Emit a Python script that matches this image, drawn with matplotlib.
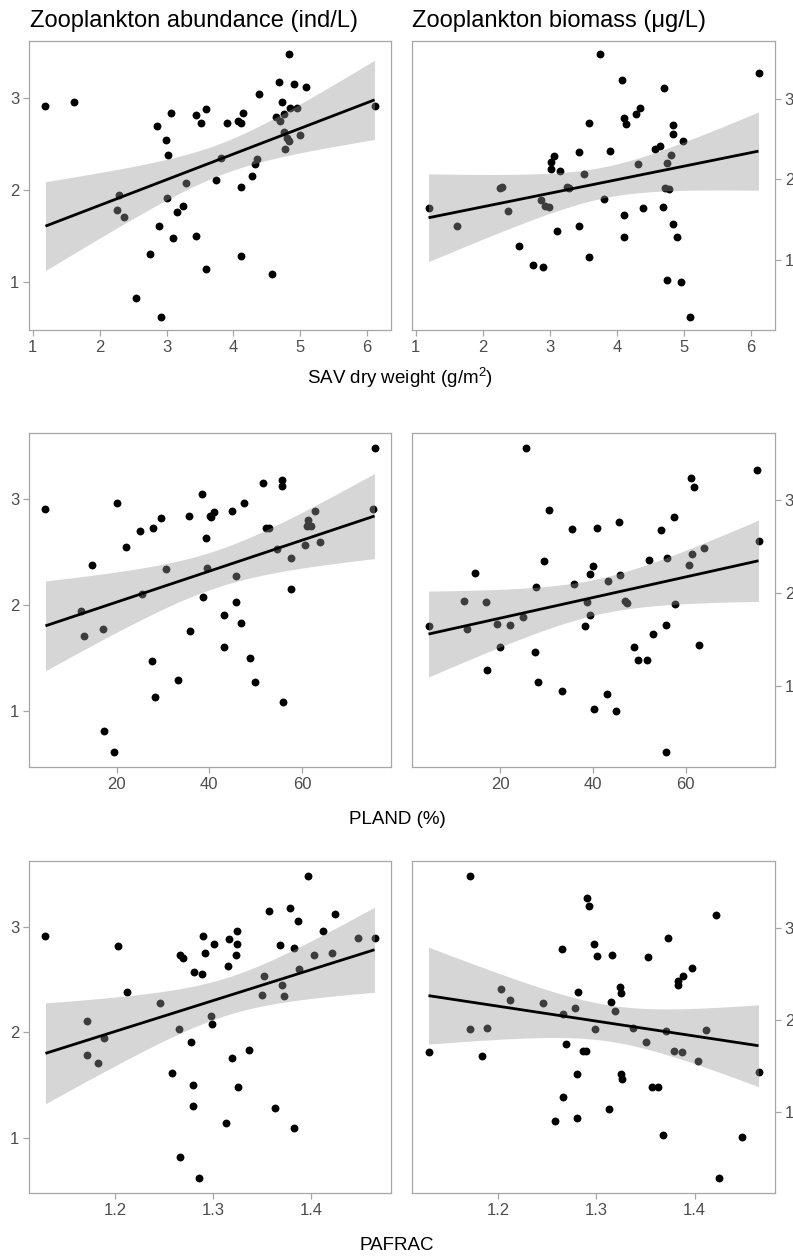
import numpy as np
import matplotlib.pyplot as plt

plt.rcParams['font.family'] = ['Liberation Sans', 'DejaVu Sans']
plt.rcParams['mathtext.fontset'] = 'custom'
plt.rcParams['mathtext.rm'] = 'Liberation Sans'
plt.rcParams['mathtext.it'] = 'Liberation Sans:italic'

# one entry per sampling site
sav = [1.19, 1.61, 2.29, 2.26, 2.37, 2.54, 2.75, 2.86, 2.89, 2.92,
       2.99, 3.02, 3.01, 3.06, 3.10, 3.15, 3.25, 3.29, 3.44, 3.44,
       3.51, 3.59, 3.59, 3.74, 3.81, 3.90, 4.07, 4.11, 4.14, 4.11,
       4.11, 4.28, 4.32, 4.35, 4.39, 4.57, 4.64, 4.68, 4.70, 4.72,
       4.75, 4.75, 4.77, 4.80, 4.83, 4.83, 4.84, 4.90, 4.95, 4.99,
       5.09, 6.11]
pland = [4.6, 20.1, 12.2, 17.0, 13.0, 17.3, 33.3, 25.0, 43.1, 19.4,
         22.1, 14.6, 43.2, 40.1, 27.6, 35.9, 46.9, 38.7, 29.5, 48.9,
         27.8, 41.0, 28.2, 25.5, 39.5, 52.2, 61.1, 52.9, 35.6, 45.7,
         49.8, 57.6, 45.8, 30.6, 38.4, 56.0, 61.3, 55.7, 61.9, 47.4,
         40.3, 39.3, 57.7, 60.7, 54.6, 75.7, 62.8, 51.6, 44.9, 64.0,
         55.7, 75.4]
pafrac = [1.129, 1.325, 1.189, 1.171, 1.183, 1.266, 1.280, 1.269, 1.258, 1.286,
          1.289, 1.212, 1.278, 1.325, 1.326, 1.319, 1.337, 1.299, 1.203, 1.280,
          1.266, 1.316, 1.313, 1.171, 1.350, 1.324, 1.292, 1.403, 1.301, 1.265,
          1.363, 1.298, 1.246, 1.373, 1.387, 1.383, 1.383, 1.379, 1.422, 1.412,
          1.368, 1.315, 1.371, 1.281, 1.352, 1.397, 1.465, 1.357, 1.448, 1.388,
          1.425, 1.290]
abundance = [2.91, 2.96, 1.95, 1.78, 1.71, 0.82, 1.30, 2.70, 1.61, 0.62,
             2.55, 2.38, 1.91, 2.84, 1.48, 1.76, 1.83, 2.08, 2.82, 1.50,
             2.73, 2.88, 1.14, 2.11, 2.35, 2.73, 2.75, 2.73, 2.84, 2.03,
             1.28, 2.15, 2.28, 2.34, 3.05, 1.09, 2.80, 3.18, 2.75, 2.96,
             2.83, 2.63, 2.45, 2.57, 2.53, 3.48, 2.89, 3.15, 2.89, 2.60,
             3.12, 2.91]
biomass = [1.65, 1.42, 1.91, 1.90, 1.61, 1.17, 0.94, 1.74, 0.91, 1.67,
           1.66, 2.22, 2.13, 2.29, 1.36, 2.10, 1.91, 1.90, 2.34, 1.42,
           2.07, 2.70, 1.04, 3.56, 1.76, 2.36, 3.24, 1.56, 2.69, 2.77,
           1.28, 2.82, 2.19, 2.89, 1.65, 2.38, 2.42, 1.66, 3.14, 1.89,
           0.75, 2.20, 1.88, 2.30, 2.68, 2.56, 1.44, 1.28, 0.73, 2.48,
           0.29, 3.32]

W, H = 793, 1259
T_975 = 2.009  # t quantile for a 95% band with n - 2 = 50 df
BORDER = '#A6A6A6'
TEXT_GREY = '#4D4D4D'


def lm_band(x, y, n=80):
    x = np.asarray(x, float)
    y = np.asarray(y, float)
    b1, b0 = np.polyfit(x, y, 1)
    xs = np.linspace(x.min(), x.max(), n)
    fit = b0 + b1 * xs
    resid = y - (b0 + b1 * x)
    s = np.sqrt(np.sum(resid ** 2) / (len(x) - 2))
    se = s * np.sqrt(1 / len(x) + (xs - x.mean()) ** 2 / np.sum((x - x.mean()) ** 2))
    return xs, fit, fit - T_975 * se, fit + T_975 * se


def panel(fig, box, x, y, xticks, xfmt, right=False):
    l, t, r, b = box
    ax = fig.add_axes([l / W, 1 - b / H, (r - l) / W, (b - t) / H])
    ax.scatter(x, y, s=32, color='black', linewidths=0, zorder=2)
    xs, fit, lo, hi = lm_band(x, y)
    ax.fill_between(xs, lo, hi, color='#999999', alpha=0.4, linewidth=0, zorder=3)
    ax.plot(xs, fit, color='black', lw=2.0, zorder=4, solid_capstyle='butt')

    # 5% padding around everything drawn, as ggplot does
    x0, x1 = min(x), max(x)
    y0, y1 = min(min(y), lo.min()), max(max(y), hi.max())
    ax.set_xlim(x0 - 0.05 * (x1 - x0), x1 + 0.05 * (x1 - x0))
    ax.set_ylim(y0 - 0.05 * (y1 - y0), y1 + 0.05 * (y1 - y0))

    ax.set_xticks(xticks)
    ax.set_xticklabels([xfmt.format(v) for v in xticks])
    ax.set_yticks([1, 2, 3])
    ax.set_yticklabels(['1', '2', '3'])
    if right:
        ax.yaxis.tick_right()
    for sp in ax.spines.values():
        sp.set_color(BORDER)
        sp.set_linewidth(0.9)
    ax.tick_params(direction='out', length=4, width=0.9, color=BORDER,
                   labelcolor=TEXT_GREY, labelsize=12, pad=3)
    return ax


fig = plt.figure(figsize=(W / 100, H / 100), dpi=100)

rows = [
    (41, 330, sav, [1, 2, 3, 4, 5, 6], '{:g}'),
    (433, 767, pland, [20, 40, 60], '{:g}'),
    (861, 1193, pafrac, [1.2, 1.3, 1.4], '{:.1f}'),
]
for top, bottom, xv, ticks, fmt in rows:
    panel(fig, (29, top, 391, bottom), xv, abundance, ticks, fmt)
    panel(fig, (412, top, 775, bottom), xv, biomass, ticks, fmt, right=True)

fig.text(30 / W, 1 - 27 / H, 'Zooplankton abundance (ind/L)', fontsize=17,
         va='baseline', ha='left')
fig.text(412 / W, 1 - 27 / H, 'Zooplankton biomass (μg/L)', fontsize=17,
         va='baseline', ha='left')

fig.text(400 / W, 1 - 378 / H, r'SAV dry weight (g/m$^{\mathregular{2}}$)', fontsize=13.5,
         ha='center', va='center')
fig.text(397 / W, 1 - 820 / H, 'PLAND (%)', fontsize=13.5, ha='center', va='center')
fig.text(397 / W, 1 - 1246 / H, 'PAFRAC', fontsize=13.5, ha='center', va='center')

fig.savefig('out.png', dpi=100)
